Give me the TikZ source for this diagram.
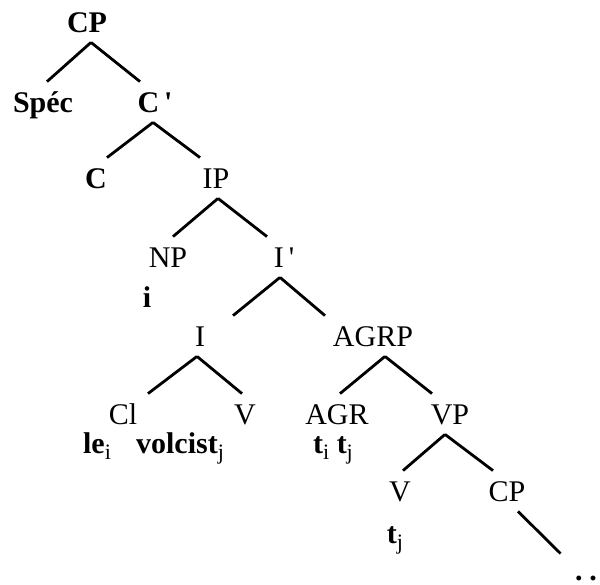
\documentclass[tikz,border=0pt]{standalone}
\usepackage{fontspec}
\setmainfont{Liberation Serif}
\newcommand{\idx}[1]{\raisebox{-3pt}{\fontsize{11}{12}\selectfont\mdseries #1}}
\begin{document}
\begin{tikzpicture}[x=0.5pt,y=-0.5pt,line width=1.4pt,
  lab/.style={font=\fontsize{15}{18}\selectfont, inner xsep=1pt, inner ysep=4.5pt, text height=10pt, text depth=0pt},
  blab/.style={lab, font=\fontsize{15}{18}\selectfont\bfseries}]
\useasboundingbox (0,0) rectangle (600,584);
\node[blab] (cp0) at (87,22){CP};
\node[blab] (spec) at (43,102){Spéc};
\node[blab] (cbar) at (155,102){C\,\textquotesingle};
\draw[]([xshift=2pt]cp0.south) -- ([xshift=2pt]spec.north);
\draw[]([xshift=2pt]cp0.south) -- ([xshift=-7.5pt]cbar.north);
\node[blab] (c) at (96,178){C};
\node[lab] (ip) at (216,178){IP};
\draw[]([xshift=-1pt]cbar.south) -- ([xshift=5.5pt]c.north);
\draw[]([xshift=-1pt]cbar.south) -- ([xshift=-8pt]ip.north);
\node[lab] (np) at (168,257){NP};
\node[blab] (npi) at (147,297){i};
\node[lab] (ibar) at (284,257){I\,\textquotesingle};
\draw[]([xshift=1pt]ip.south) -- ([xshift=2.5pt]np.north);
\draw[]([xshift=1pt]ip.south) -- ([xshift=-8.5pt]ibar.north);
\node[lab] (infl) at (200,336){I};
\node[lab] (agrp) at (373,336){AGRP};
\draw[]([xshift=-2pt]ibar.south) -- ([xshift=16.5pt]infl.north);
\draw[]([xshift=-2pt]ibar.south) -- ([xshift=-24pt]agrp.north);
\node[lab] (cl) at (123,414){Cl};
\node[blab] (lei) at (97,443){le\idx{i}};
\node[lab] (vup) at (245,414){V};
\node[blab] (volc) at (180,443){volcist\idx{j}};
\draw[]([xshift=-1.5pt]infl.south) -- ([xshift=12.5pt]cl.north);
\draw[]([xshift=-1.5pt]infl.south) -- ([xshift=-1.5pt]vup.north);
\node[lab] (agr) at (337,414){AGR};
\node[blab] (titj) at (333,443){t\idx{i} t\idx{j}};
\node[lab] (vp) at (450,414){VP};
\draw[]([xshift=6pt]agrp.south) -- ([xshift=1.5pt]agr.north);
\draw[]([xshift=6pt]agrp.south) -- ([xshift=-9pt]vp.north);
\node[lab] (vlow) at (400,491){V};
\node[blab] (tj) at (395,533){t\idx{j}};
\node[lab] (cp1) at (507,491){CP};
\draw[]([xshift=-2.5pt]vp.south) -- ([xshift=1.5pt]vlow.north);
\draw[]([xshift=-2.5pt]vp.south) -- ([xshift=-7pt]cp1.north);
\node[blab] (dots) at (586,570){.\hspace{3.5pt}.};
\draw[]([xshift=5.5pt]cp1.south) -- ([xshift=-5.5pt,yshift=-2pt]dots.north west);
\end{tikzpicture}
\end{document}
